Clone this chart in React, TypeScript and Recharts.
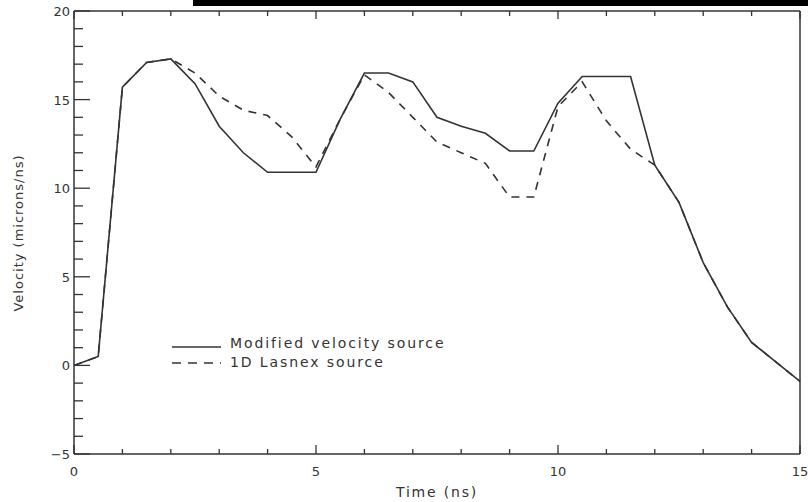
import { CartesianGrid, Line, LineChart, XAxis, YAxis } from "recharts"

// Time in ns, sampled every 0.5 ns
const times = [
    0, 0.5, 1, 1.5, 2, 2.5, 3, 3.5, 4, 4.5, 5, 5.5, 6, 6.5, 7, 7.5, 8, 8.5, 9, 9.5, 10, 10.5, 11, 11.5, 12, 12.5,
    13, 13.5, 14, 14.5, 15,
]

// Velocity in microns/ns
const modifiedSource = [
    0, 0.5, 15.7, 17.1, 17.3, 15.9, 13.5, 12.0, 10.9, 10.9, 10.9, 13.9, 16.5, 16.5, 16.0, 14.0, 13.5, 13.1, 12.1,
    12.1, 14.8, 16.3, 16.3, 16.3, 11.3, 9.2, 5.8, 3.3, 1.3, 0.2, -0.9,
]

const lasnexSource = [
    0, 0.5, 15.7, 17.1, 17.3, 16.5, 15.2, 14.4, 14.1, 12.9, 11.2, 13.9, 16.4, 15.4, 14.0, 12.6, 12.0, 11.4, 9.5,
    9.5, 14.6, 16.0, 13.8, 12.2, 11.3, 9.2, 5.8, 3.3, 1.3, 0.2, -0.9,
]

const xTicks = [0, 1, 2, 3, 4, 5, 6, 7, 8, 9, 10, 11, 12, 13, 14, 15]
const yTicks = [-5, -4, -3, -2, -1, 0, 1, 2, 3, 4, 5, 6, 7, 8, 9, 10, 11, 12, 13, 14, 15, 16, 17, 18, 19, 20]

const data = times.map((t, i) => ({ t, modified: modifiedSource[i], lasnex: lasnexSource[i] }))

const INK = "#333"
const FONT = "'DejaVu Sans', sans-serif"

const isMajor = (v: number) => v % 5 === 0

// ticks point into the plot on all four sides, like the IDL box
function BottomTick({ x, y, payload }: any) {
    const major = isMajor(payload.value)
    return (
        <g>
            <line x1={x} y1={y} x2={x} y2={y - (major ? 9 : 5)} stroke={INK} strokeWidth={1.3} />
            {major && (
                <text x={x} y={y + 22} textAnchor="middle" fill={INK} fontSize={13} fontFamily={FONT}>
                    {payload.value}
                </text>
            )}
        </g>
    )
}

function TopTick({ x, y, payload }: any) {
    const major = isMajor(payload.value)
    return <line x1={x} y1={y} x2={x} y2={y + (major ? 8 : 5)} stroke={INK} strokeWidth={1.3} />
}

function LeftTick({ x, y, payload }: any) {
    const major = isMajor(payload.value)
    return (
        <g>
            <line x1={x} y1={y} x2={x + (major ? 16 : 9)} y2={y} stroke={INK} strokeWidth={1.3} />
            {major && (
                <text x={x - 4} y={y + 5} textAnchor="end" fill={INK} fontSize={13} fontFamily={FONT}>
                    {payload.value < 0 ? "\u2212" + Math.abs(payload.value) : payload.value}
                </text>
            )}
        </g>
    )
}

function RightTick({ x, y, payload }: any) {
    const major = isMajor(payload.value)
    return <line x1={x} y1={y} x2={x - (major ? 16 : 9)} y2={y} stroke={INK} strokeWidth={1.3} />
}

export default function App() {
    return (
        <div
            style={{
                position: "absolute",
                left: 0,
                top: 0,
                width: 808,
                height: 502,
                background: "#fff",
                fontFamily: FONT,
            }}
        >
            <LineChart width={808} height={502} data={data} margin={{ top: 10, right: 7, left: 0, bottom: 0 }}>
                <CartesianGrid stroke="none" />
                <XAxis
                    dataKey="t"
                    type="number"
                    domain={[0, 15]}
                    ticks={xTicks}
                    interval={0}
                    height={48}
                    tickSize={0}
                    tickMargin={0}
                    tick={<BottomTick />}
                    axisLine={{ stroke: INK, strokeWidth: 1.5 }}
                    tickLine={false}
                />
                <XAxis
                    xAxisId="top"
                    orientation="top"
                    dataKey="t"
                    type="number"
                    domain={[0, 15]}
                    ticks={xTicks}
                    interval={0}
                    height={1}
                    tickSize={0}
                    tickMargin={0}
                    tick={<TopTick />}
                    axisLine={{ stroke: INK, strokeWidth: 1.5 }}
                    tickLine={false}
                />
                <YAxis
                    type="number"
                    domain={[-5, 20]}
                    ticks={yTicks}
                    interval={0}
                    width={74}
                    tickSize={0}
                    tickMargin={0}
                    tick={<LeftTick />}
                    axisLine={{ stroke: INK, strokeWidth: 1.5 }}
                    tickLine={false}
                />
                <YAxis
                    yAxisId="right"
                    orientation="right"
                    type="number"
                    domain={[-5, 20]}
                    ticks={yTicks}
                    interval={0}
                    width={1}
                    tickSize={0}
                    tickMargin={0}
                    tick={<RightTick />}
                    axisLine={{ stroke: INK, strokeWidth: 1.5 }}
                    tickLine={false}
                />
                <Line
                    type="linear"
                    dataKey="lasnex"
                    stroke={INK}
                    strokeWidth={1.6}
                    strokeDasharray="8 7"
                    dot={false}
                    isAnimationActive={false}
                />
                <Line
                    type="linear"
                    dataKey="modified"
                    stroke={INK}
                    strokeWidth={1.6}
                    dot={false}
                    isAnimationActive={false}
                />
            </LineChart>

            {/* axis titles */}
            <div
                style={{
                    position: "absolute",
                    left: 437,
                    top: 492,
                    transform: "translate(-50%, -50%)",
                    fontSize: 14,
                    color: INK,
                    whiteSpace: "nowrap",
                    letterSpacing: 1.8,
                }}
            >
                Time (ns)
            </div>
            <div
                style={{
                    position: "absolute",
                    left: 18,
                    top: 233,
                    transform: "translate(-50%, -50%) rotate(-90deg)",
                    fontSize: 13,
                    color: INK,
                    whiteSpace: "nowrap",
                    letterSpacing: 1,
                }}
            >
                Velocity (microns/ns)
            </div>

            {/* legend */}
            <svg style={{ position: "absolute", left: 160, top: 330 }} width={300} height={45}>
                <line x1={12} y1={17} x2={61} y2={17} stroke={INK} strokeWidth={1.6} />
                <line x1={12} y1={33} x2={61} y2={33} stroke={INK} strokeWidth={1.6} strokeDasharray="9 7" />
                <text x={70} y={18} fill={INK} fontSize={14} fontFamily={FONT} letterSpacing={1.9}>
                    Modified velocity source
                </text>
                <text x={70} y={37} fill={INK} fontSize={14} fontFamily={FONT} letterSpacing={1.9}>
                    1D Lasnex source
                </text>
            </svg>

            {/* black band along the top edge of the scan */}
            <div style={{ position: "absolute", left: 193, top: 0, width: 615, height: 6, background: "#000" }} />
        </div>
    )
}
